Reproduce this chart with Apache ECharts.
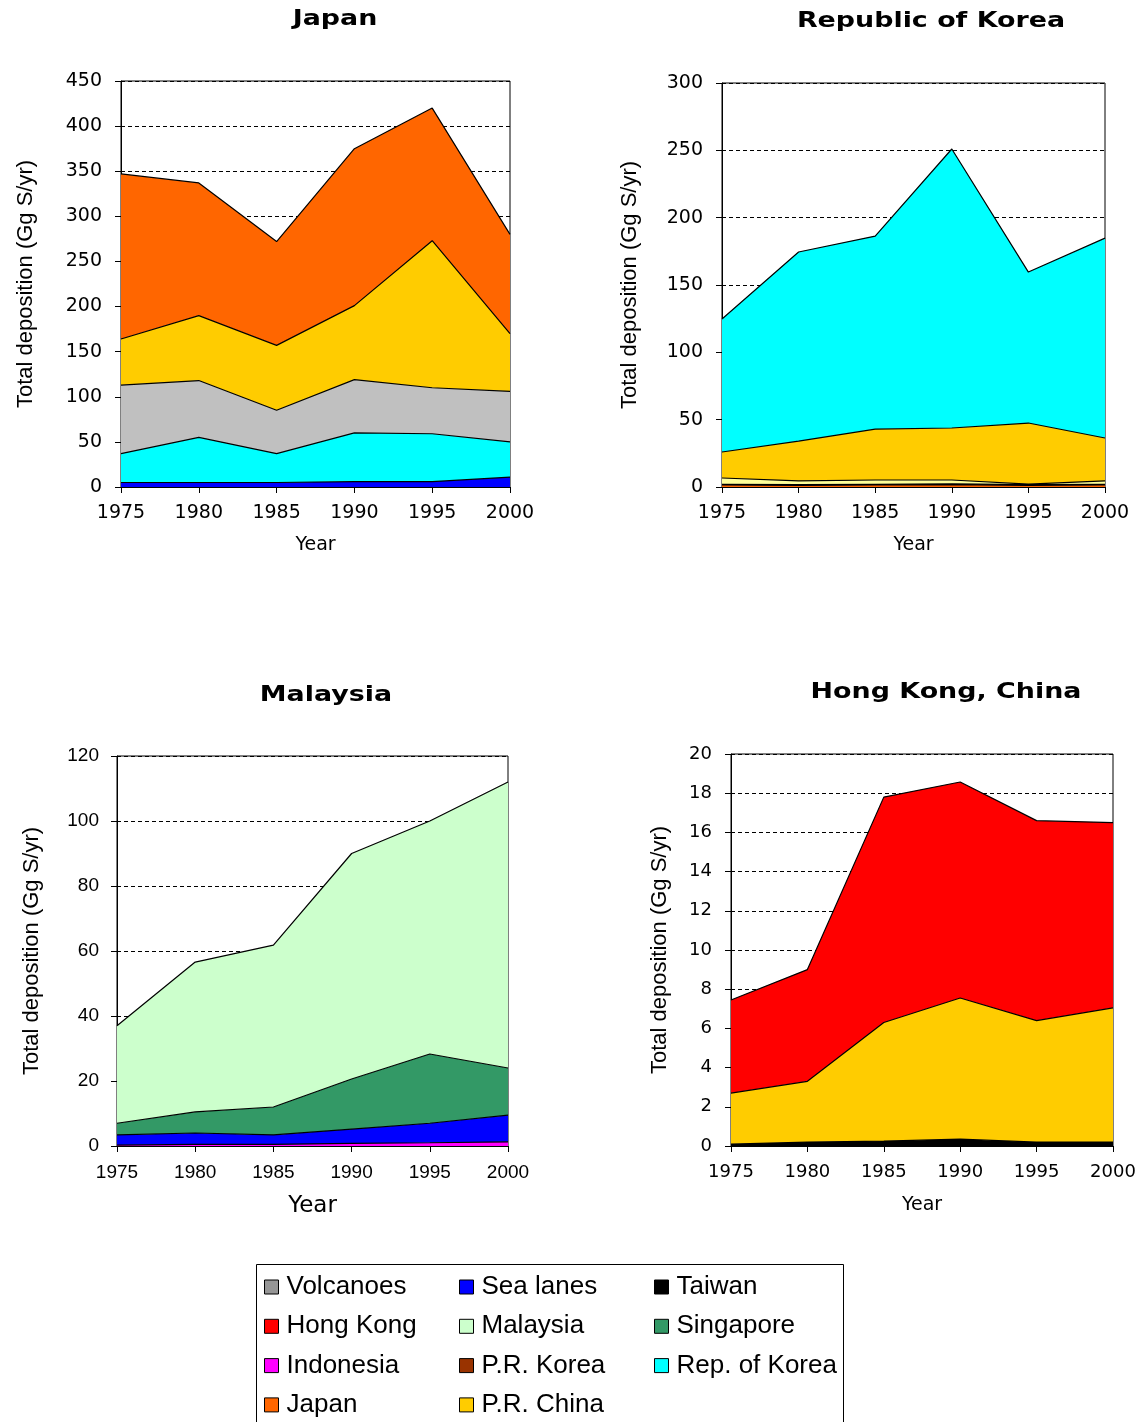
<!DOCTYPE html>
<html><head><meta charset="utf-8">
<script src="https://cdn.jsdelivr.net/npm/echarts@6/dist/echarts.min.js"></script>
<style>html,body{margin:0;padding:0;background:#fff}#c{width:1146px;height:1422px}</style>
</head><body><div id="c"></div>
<script>
const years = ['1975','1980','1985','1990','1995','2000'];

// Japan (bottom to top)
const jpSeaLanes = [5, 5, 5, 6, 6, 11];
const jpRepKorea = [32, 50, 32, 54, 53, 39];
const jpVolcanoes = [76, 63, 48, 59, 51, 56];
const jpChina = [51, 72, 72, 82, 163, 64];
const jpJapan = [183, 147, 115, 174, 147, 110];

// Republic of Korea (bottom to top)
const krJapan = [1.5, 1.2, 1.5, 1.8, 1.2, 1.5];
const krPRKorea = [0.5, 0.5, 0.5, 0.5, 0.5, 0.5];
const krOthers = [4.7, 2.8, 3.2, 2.9, 0.5, 2.5];
const krChina = [19.3, 29.5, 37.8, 38.6, 45.3, 31.9];
const krRepKorea = [98.7, 140.5, 143.3, 207.2, 112.1, 148.4];

// Malaysia (bottom to top)
const myIndonesia = [0.3, 0.5, 0.5, 0.8, 1.0, 1.3];
const mySeaLanes = [3.1, 3.5, 2.9, 4.4, 6.0, 8.2];
const mySingapore = [3.6, 6.5, 8.6, 15.4, 21.3, 14.5];
const myMalaysia = [30, 46.1, 49.8, 69.4, 71.7, 88];

// Hong Kong, China (bottom to top)
const hkTaiwan = [0.1, 0.2, 0.25, 0.35, 0.2, 0.2];
const hkChina = [2.6, 3.1, 6.05, 7.2, 6.2, 6.85];
const hkHongKong = [4.75, 5.7, 11.5, 11.02, 10.2, 9.45];

const titles = ['Japan', 'Republic of Korea', 'Malaysia', 'Hong Kong, China'];
const yName = 'Total deposition (Gg S/yr)';
const xName = 'Year';

const C = {
  'Volcanoes':'#C0C0C0','Sea lanes':'#0000FF','Taiwan':'#000000','Hong Kong':'#FF0000',
  'Malaysia':'#CCFFCC','Singapore':'#339966','Indonesia':'#FF00FF','P.R. Korea':'#993300',
  'Rep. of Korea':'#00FFFF','Japan':'#FF6600','P.R. China':'#FFCC00','Others':'#FFFF99'
};

const grids = [
  {left:121, top:81, width:389, height:406},
  {left:722, top:83, width:383, height:404},
  {left:117, top:756, width:391, height:390},
  {left:731, top:754, width:382, height:392}
];
const yCfg = [
  {max:450, interval:50, gap:84, font:'DejaVu Sans', size:19, margin:19},
  {max:300, interval:50, gap:81, font:'DejaVu Sans', size:19, margin:19},
  {max:120, interval:20, gap:74, font:'Liberation Sans', size:19, margin:18},
  {max:20, interval:2, gap:60, font:'DejaVu Sans', size:18, margin:19}
];
const xNameSize = [19, 19, 23, 19];
const xNameGap = [49, 49, 49, 50];

function area(name, data, idx) {
  return {
    name, type:'line', data, xAxisIndex:idx, yAxisIndex:idx, stack:'s'+idx,
    symbol:'none', smooth:false,
    lineStyle:{color:'#000', width:1.2},
    itemStyle:{color:C[name]},
    areaStyle:{color:C[name], opacity:1},
    emphasis:{disabled:true}, animation:false
  };
}

const series = [
  area('Sea lanes', jpSeaLanes, 0), area('Rep. of Korea', jpRepKorea, 0),
  area('Volcanoes', jpVolcanoes, 0), area('P.R. China', jpChina, 0), area('Japan', jpJapan, 0),
  area('Japan', krJapan, 1), area('P.R. Korea', krPRKorea, 1), area('Others', krOthers, 1),
  area('P.R. China', krChina, 1), area('Rep. of Korea', krRepKorea, 1),
  area('Indonesia', myIndonesia, 2), area('Sea lanes', mySeaLanes, 2),
  area('Singapore', mySingapore, 2), area('Malaysia', myMalaysia, 2),
  area('Taiwan', hkTaiwan, 3), area('P.R. China', hkChina, 3), area('Hong Kong', hkHongKong, 3)
];

const titleCenters = [[335,20],[931,22],[326,696],[946,693]];

const legendCols = [
  ['Volcanoes','Hong Kong','Indonesia','Japan'],
  ['Sea lanes','Malaysia','P.R. Korea','P.R. China'],
  ['Taiwan','Singapore','Rep. of Korea']
];
const legendLefts = [264, 459, 654];

const option = {
  backgroundColor:'#fff',
  animation:false,
  grid: grids.map(g => Object.assign({show:true, borderColor:'#000', borderWidth:1, backgroundColor:'transparent', containLabel:false}, g)),
  xAxis: grids.map((g,i) => ({
    type:'category', gridIndex:i, data:years, boundaryGap:false,
    name:xName, nameLocation:'middle', nameGap:xNameGap[i],
    nameTextStyle:{fontFamily:'DejaVu Sans', fontSize:xNameSize[i], color:'#000'},
    axisLine:{lineStyle:{color:'#000', width:1}},
    axisTick:{show:true, inside:false, length:6, lineStyle:{color:'#000'}},
    axisLabel:{color:'#000', fontFamily:yCfg[i].font, fontSize:yCfg[i].size, margin:17},
    splitLine:{show:false}
  })),
  yAxis: grids.map((g,i) => ({
    type:'value', gridIndex:i, min:0, max:yCfg[i].max, interval:yCfg[i].interval,
    name:yName, nameLocation:'middle', nameGap:yCfg[i].gap, nameRotate:90,
    nameTextStyle:{fontFamily:'Liberation Sans', fontSize:22, color:'#000'},
    axisLine:{show:true, lineStyle:{color:'#000', width:1}},
    axisTick:{show:true, inside:false, length:6, lineStyle:{color:'#000'}},
    axisLabel:{color:'#000', fontFamily:yCfg[i].font, fontSize:yCfg[i].size, margin:yCfg[i].margin},
    splitLine:{show:true, lineStyle:{color:'#000', type:[4,3], width:1}}
  })),
  legend: legendCols.map((cols, i) => ({
    orient:'vertical', left:legendLefts[i], top:1274, padding:0, itemGap:13.3,
    icon:'rect', itemWidth:14, itemHeight:14,
    itemStyle:{borderColor:'#000', borderWidth:1},
    selectedMode:false,
    textStyle:{fontFamily:'Liberation Sans', fontSize:26, lineHeight:26, color:'#000', padding:[0,0,0,3]},
    data: cols.map(n => n === 'Volcanoes' ? {name:n, itemStyle:{color:'#969696'}} : {name:n})
  })),
  graphic: [
    ...titles.map((t,i) => ({
      type:'text', x:titleCenters[i][0], y:titleCenters[i][1], scaleX:1.28, silent:true,
      style:{text:t, x:0, y:0, textAlign:'center', textVerticalAlign:'middle',
        font:'bold 21px "DejaVu Sans"', fill:'#000'}
    })),
    {type:'rect', shape:{x:256.5, y:1264.5, width:587, height:170}, silent:true,
     style:{fill:'none', stroke:'#000', lineWidth:1}}
  ],
  series
};

const chart = echarts.init(document.getElementById('c'), null, {renderer:'canvas'});
chart.setOption(option);
</script>
</body></html>
